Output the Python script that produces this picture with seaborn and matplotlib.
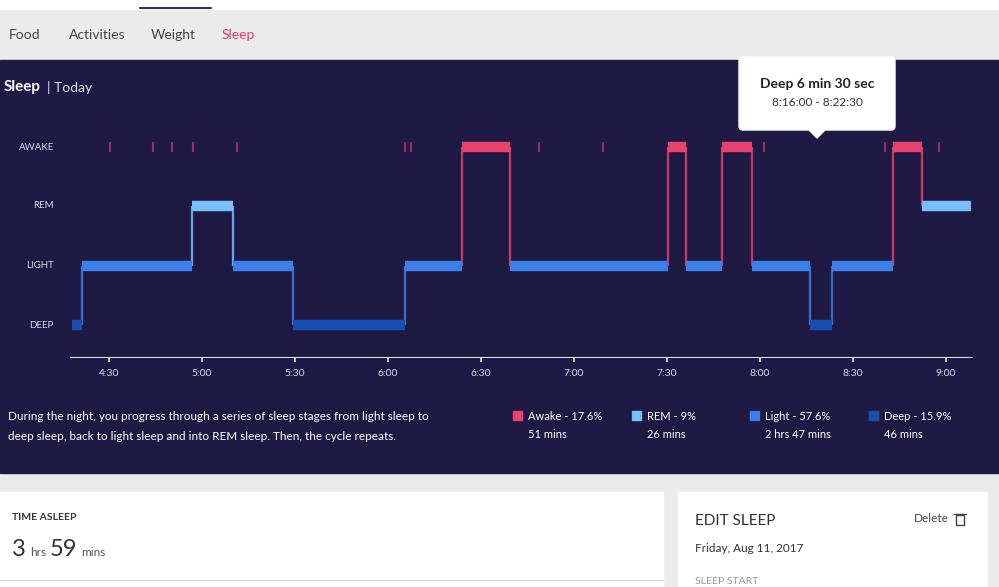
import matplotlib
matplotlib.use("Agg")
import matplotlib.pyplot as plt
from matplotlib.patches import FancyBboxPatch, Rectangle, Polygon
import seaborn as sns
import pandas as pd

sns.set_theme(style="white", font="Lato")

# ---- data (minutes after 4:30) ----
stage_names = ["DEEP", "LIGHT", "REM", "AWAKE"]
seg_stage = ["DEEP", "LIGHT", "REM", "LIGHT", "DEEP", "LIGHT", "AWAKE", "LIGHT", "AWAKE",
             "LIGHT", "AWAKE", "LIGHT", "DEEP", "LIGHT", "AWAKE", "REM"]
seg_start = [-12, -8.7, 26.8, 40, 59.4, 95.5, 114, 129.4, 180.3, 186.1, 197.7, 207.4, 226, 233.2, 253, 262.3]
seg_end = [-8.7, 26.8, 40, 59.4, 95.5, 114, 129.4, 180.3, 186.1, 197.7, 207.4, 226, 233.2, 253, 262.3, 278]
brief_awake = [0.3, 14.2, 20.3, 27.1, 41.3, 95.5, 97.4, 138.7, 159.4, 211.3, 250.3, 267.7]
tick_labels = ["4:30", "5:00", "5:30", "6:00", "6:30", "7:00", "7:30", "8:00", "8:30", "9:00"]
tick_pos = [0, 30, 60, 90, 120, 150, 180, 210, 240, 270]
legend_names = ["Awake - 17.6%", "REM - 9%", "Light - 57.6%", "Deep - 15.9%"]
legend_mins = ["51 mins", "26 mins", "2 hrs 47 mins", "46 mins"]

colors = {"AWAKE": "#E8426E", "REM": "#76BFFA", "LIGHT": "#3B80EA", "DEEP": "#174FB0"}
legend_colors = [colors["AWAKE"], colors["REM"], colors["LIGHT"], colors["DEEP"]]
level = {n: i for i, n in enumerate(stage_names)}

df = pd.DataFrame({"stage": seg_stage, "start": seg_start, "end": seg_end})
df["y"] = df["stage"].map(level)

W, H = 999, 587
fig = plt.figure(figsize=(W / 100, H / 100), dpi=100)
bg = fig.add_axes([0, 0, 1, 1])
bg.set_xlim(0, W); bg.set_ylim(H, 0); bg.axis("off")

navy = "#1F1A43"
bg.add_patch(Rectangle((0, 0), W, H, color="#EBEBEB"))
bg.add_patch(Rectangle((0, 0), W, 9, color="#FFFFFF"))
bg.plot([140, 211], [8, 8], color="#333344", lw=1.5)
bg.add_patch(Rectangle((0, 60), W, 413, color=navy))
for txt, x, c in [("Food", 9, "#444"), ("Activities", 69, "#444"), ("Weight", 151, "#444"), ("Sleep", 222, "#E8386D")]:
    bg.text(x, 35, txt, fontsize=10, color=c, va="center", ha="left")
bg.text(4, 87, "Sleep", fontsize=11, color="white", weight="bold", va="center")
bg.text(47, 87, "| Today", fontsize=10, color="#DDDDEE", va="center")
for lab, y in zip(["AWAKE", "REM", "LIGHT", "DEEP"], [147, 206, 266, 325]):
    bg.text(54, y, lab, fontsize=7, color="#D8D8E8", ha="right", va="center")
# tooltip
bg.add_patch(FancyBboxPatch((739, 57), 156, 73, boxstyle="round,pad=0,rounding_size=4", color="white"))
bg.add_patch(Polygon([[809, 130], [825, 130], [817, 138]], color="white"))
bg.text(817, 84, "Deep 6 min 30 sec", fontsize=10, weight="bold", color="#222", ha="center", va="center")
bg.text(817, 103, "8:16:00 - 8:22:30", fontsize=8.5, color="#333", ha="center", va="center")
# description + legend
bg.text(8, 416, "During the night, you progress through a series of sleep stages from light sleep to",
        fontsize=8.5, color="white", va="center")
bg.text(8, 436, "deep sleep, back to light sleep and into REM sleep. Then, the cycle repeats.",
        fontsize=8.5, color="white", va="center")
for i, (n, m, c) in enumerate(zip(legend_names, legend_mins, legend_colors)):
    x = [513, 632, 750, 869][i]
    bg.add_patch(Rectangle((x, 411), 9, 9, color=c))
    bg.text(x + 15, 416, n, fontsize=8, color="white", va="center")
    bg.text(x + 15, 434, m, fontsize=8, color="white", va="center")
# bottom cards
bg.add_patch(Rectangle((0, 492), 663, 100, color="white"))
bg.add_patch(Rectangle((678, 492), 309, 100, color="white"))
bg.plot([0, 663], [580, 580], color="#DDDDDD", lw=1)
bg.text(12, 518, "TIME ASLEEP", fontsize=7.5, weight="bold", color="#333", va="center")
bg.text(12, 549, "3", fontsize=17, color="#333", va="center")
bg.text(30, 552, "hrs", fontsize=8.5, color="#555", va="center")
bg.text(50, 549, "59", fontsize=17, color="#333", va="center")
bg.text(81, 552, "mins", fontsize=8.5, color="#555", va="center")
bg.text(695, 521, "EDIT SLEEP", fontsize=11, color="#333", va="center")
bg.text(914, 519, "Delete", fontsize=8.5, color="#444", va="center")
bg.add_patch(Rectangle((956, 515), 8, 10, fill=False, ec="#444", lw=1))
bg.plot([954, 966], [514, 514], color="#444", lw=1)
bg.text(695, 549, "Friday, Aug 11, 2017", fontsize=8.5, color="#333", va="center")
bg.text(695, 581, "SLEEP START", fontsize=7.5, color="#999", va="center")

# ---- chart axes ----
x0, x1 = 70, 975
ytop, ybot = 130, 358
ax = fig.add_axes([x0 / W, 1 - ybot / H, (x1 - x0) / W, (ybot - ytop) / H])
ax.set_facecolor("none")
ax.set_xlim((x0 - 109) / 3.1, (x1 - 109) / 3.1)
ax.set_ylim(-33 / 59.5, 3 + 17 / 59.5)
for s in ax.spines.values():
    s.set_visible(False)
ax.axhline(-33 / 59.5, xmin=0, xmax=(972 - x0) / (x1 - x0), color="#DDDDDD", lw=1.5)
rows = df.to_dict("records")
for a, b in zip(rows[:-1], rows[1:]):
    c = colors[b["stage"]] if b["y"] > a["y"] else colors[a["stage"]]
    ax.vlines(a["end"], min(a["y"], b["y"]), max(a["y"], b["y"]), color=c, lw=1.6, alpha=0.85)
for r in rows:
    ax.hlines(r["y"], r["start"], r["end"], color=colors[r["stage"]], lw=7.5, capstyle="butt")
sns.scatterplot(x=brief_awake, y=[3] * len(brief_awake), marker="|", s=60, color="#9E2F62", linewidth=1.5, ax=ax, legend=False)
ax.set_xticks(tick_pos)
ax.set_xticklabels(tick_labels, fontsize=7.5, color="#D8D8E8")
ax.tick_params(axis="x", length=3, color="#DDDDDD", pad=5, direction="out", bottom=True)
ax.set_yticks([])
fig.savefig("out.png", dpi=100)
